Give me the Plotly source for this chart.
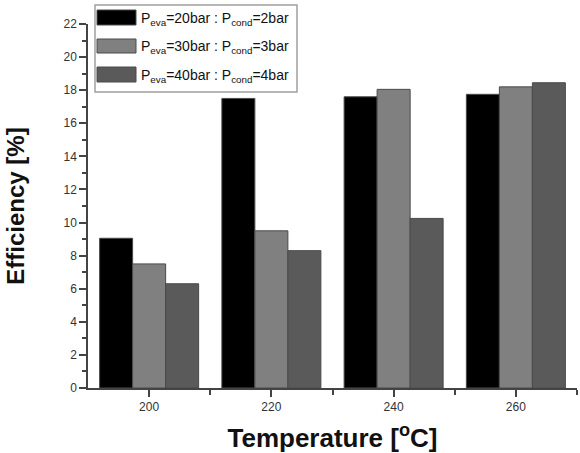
import plotly.graph_objects as go

temperatures = [200, 220, 240, 260]
eff_20_2 = [9.05, 17.5, 17.6, 17.75]
eff_30_3 = [7.5, 9.5, 18.05, 18.2]
eff_40_4 = [6.3, 8.3, 10.25, 18.45]

series_names = [
    "P<sub>eva</sub>=20bar : P<sub>cond</sub>=2bar",
    "P<sub>eva</sub>=30bar : P<sub>cond</sub>=3bar",
    "P<sub>eva</sub>=40bar : P<sub>cond</sub>=4bar",
]
series_values = [eff_20_2, eff_30_3, eff_40_4]
colors = ["#000000", "#808080", "#5a5a5a"]

font_family = "Liberation Sans, Arial, sans-serif"

fig = go.Figure()
for name, vals, c in zip(series_names, series_values, colors):
    fig.add_trace(go.Bar(
        x=temperatures, y=vals, name=name, showlegend=False,
        marker=dict(color=c, line=dict(color="#4a4a4a", width=1)),
    ))

# custom legend (large swatches like the reference), paper coordinates
L, R, T, B = 88, 577, 24, 388
def px(x):
    return (x - L) / (R - L)
def py(y):
    return (B - y) / (B - T)

shapes = [dict(type="rect", xref="paper", yref="paper",
               x0=px(95), x1=px(297), y0=py(92), y1=py(5),
               line=dict(color="#a0a0a0", width=1.5), fillcolor="white", layer="above")]
annotations = []
rows = [(10, 25), (39, 53), (67, 82)]
for (y0, y1), name, c in zip(rows, series_names, colors):
    shapes.append(dict(type="rect", xref="paper", yref="paper",
                       x0=px(97), x1=px(136), y0=py(y1), y1=py(y0),
                       line=dict(color="#4a4a4a", width=1), fillcolor=c, layer="above"))
    annotations.append(dict(xref="paper", yref="paper", x=px(139), y=py((y0 + y1) / 2 + 1),
                            xanchor="left", yanchor="middle", showarrow=False,
                            text=name, font=dict(size=14, color="#111111", family=font_family)))

fig.update_layout(
    width=580, height=453,
    margin=dict(l=L, r=580 - R, t=T, b=453 - B),
    paper_bgcolor="white", plot_bgcolor="white",
    barmode="group", bargap=0.19, bargroupgap=0,
    font=dict(family=font_family, color="#333333", size=12),
    showlegend=False,
    shapes=shapes, annotations=annotations,
    xaxis=dict(
        range=[190, 270], tickvals=[200, 220, 240, 260],
        ticks="outside", ticklen=7, tickwidth=1.5, tickcolor="#444",
        showline=True, linecolor="#444", linewidth=1.5,
        showgrid=False, zeroline=False,
        minor=dict(tickvals=[210, 230, 250, 270], ticks="outside", ticklen=5, tickwidth=1.5, tickcolor="#444"),
        tickfont=dict(size=12, color="#333333"),
        title=dict(text="Temperature [<sup>o</sup>C]", font=dict(size=26, color="#111111", family=font_family, weight="bold"), standoff=18),
    ),
    yaxis=dict(
        range=[0, 22], tickvals=list(range(0, 23, 2)),
        ticks="outside", ticklen=7, tickwidth=1.5, tickcolor="#444",
        showline=True, linecolor="#444", linewidth=1.5,
        showgrid=False, zeroline=False,
        minor=dict(tickvals=list(range(1, 22, 2)), ticks="outside", ticklen=4, tickwidth=1.5, tickcolor="#444"),
        tickfont=dict(size=12, color="#333333"),
        title=dict(text="Efficiency [%]", font=dict(size=24, color="#111111", family=font_family, weight="bold"), standoff=32),
    ),
)

fig.write_html("out.html")
